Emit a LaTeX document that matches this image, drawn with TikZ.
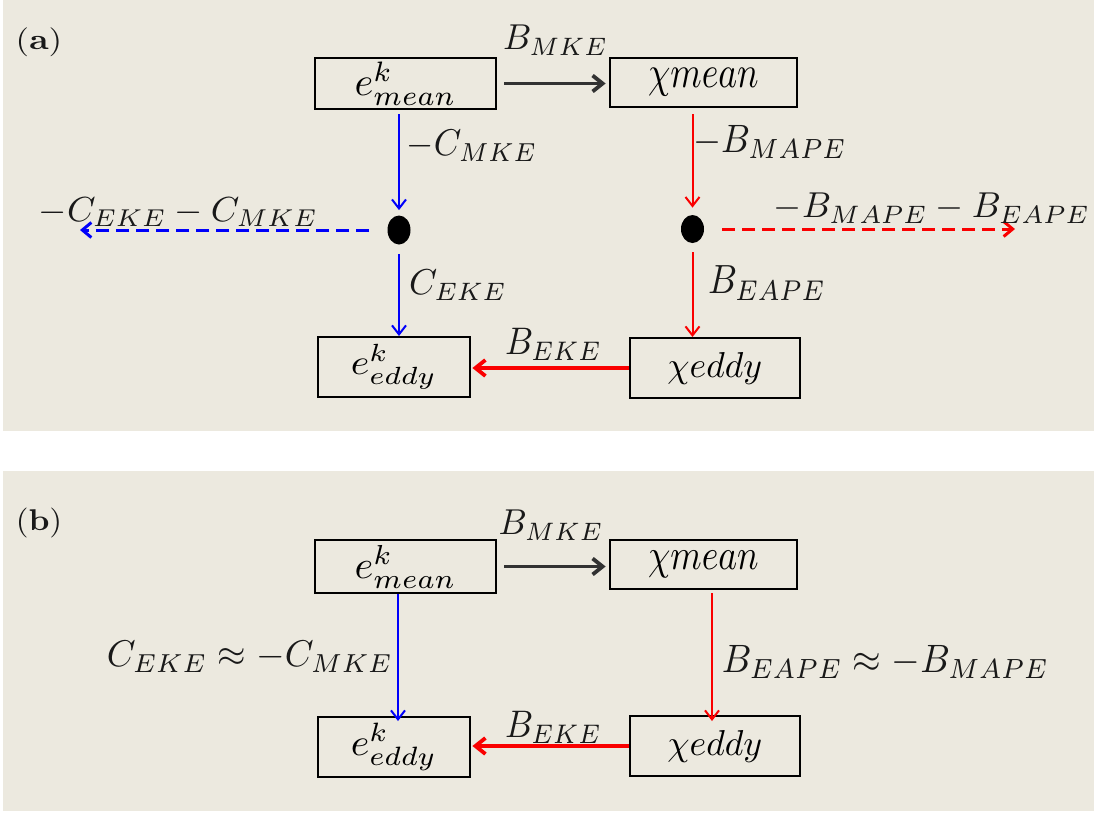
\documentclass[tikz,border=0pt]{standalone}
\usetikzlibrary{arrows.meta,shapes.geometric}
\definecolor{beige}{RGB}{236,233,223}
\definecolor{arrgray}{RGB}{50,50,50}
\definecolor{myred}{RGB}{250,0,0}
\definecolor{myblue}{RGB}{0,0,250}
\newlength\pxu \setlength\pxu{0.5pt}
\newcommand\fitm[3]{\resizebox*{#1\pxu}{#2\pxu}{$#3$}}
\newcommand\fitt[3]{\resizebox*{#1\pxu}{#2\pxu}{#3}}
\begin{document}
\begin{tikzpicture}[x=0.5pt,y=-0.5pt,
  box/.style={draw=black,line width=1pt,rectangle,inner sep=0pt,fill=beige},
  lbl/.style={inner sep=0pt,text=black!90},
  blob/.style={ellipse,fill=black,inner sep=0pt,minimum width=11.5pt,minimum height=14.5pt},
  vflow/.style={line width=1pt,-{Straight Barb[length=4.5pt,width=7pt]}},
  hflow/.style={line width=1.9pt,-{Straight Barb[length=5pt,width=8pt]}},
  dflow/.style={line width=1.5pt,dash pattern=on 6.5pt off 3.5pt,-{Straight Barb[length=4.5pt,width=7.5pt]}}]
\useasboundingbox (0,0) rectangle (1094,816);
\fill[white] (0,0) rectangle (1094,816);
\fill[beige] (3,0) rectangle (1094,431);
\fill[beige] (3,471) rectangle (1094,811);

% ---------- panel (a) ----------
\node[lbl] (tla) at (39,42.5) {\fitt{46.5}{29}{(\textbf{a})}};
\node[box,minimum width=90.5pt,minimum height=25.5pt] (ma) at (405.7,83.5) {\fitm{102}{44}{e^{k}_{mean}}};
\node[box,minimum width=93.75pt,minimum height=24.5pt] (xa) at (703.4,82.5) {\fitm{110.7}{28}{\chi mean}};
\node[box,minimum width=75.8pt,minimum height=30pt] (ea) at (393.8,367) {\fitm{86}{45}{e^{k}_{eddy}}};
\node[box,minimum width=84.8pt,minimum height=30pt] (ya) at (714.8,368) {\fitm{94.6}{32}{\chi eddy}};
\node[blob] (bd) at (399,230) {};
\node[blob,minimum height=14pt] (rd) at (692.5,229) {};
\coordinate (bl) at (80,230);
\coordinate (rr) at (1015,229);

\draw[hflow,arrgray,shorten <=3.5pt,shorten >=1.5pt] (ma.east) -- (ma.east -| xa.west);
\draw[vflow,myblue,shorten <=2pt,shorten >=2.5pt] (ma.south -| bd) -- (bd.north);
\draw[vflow,myblue,shorten <=4.5pt] (bd.south) -- (bd.south |- ea.north);
\draw[dflow,myblue,shorten <=9pt] (bd.west) -- (bl);
\draw[vflow,myred,shorten <=3pt,shorten >=3.5pt] (xa.south -| rd) -- (rd.north);
\draw[vflow,myred,shorten <=4.5pt] (rd.south) -- (rd.south |- ya.north);
\draw[dflow,myred,shorten <=9pt] (rd.east) -- (rr);
\draw[hflow,myred,shorten >=0.9pt] (ya.west) -- (ya.west -| ea.east);

\node[lbl] (la1) at (555.5,40) {\fitm{105}{30}{B_{MKE}}};
\node[lbl] (la2) at (472,146) {\fitm{130.5}{31}{-C_{MKE}}};
\node[lbl] (la3) at (178.5,212) {\fitm{279}{29}{-C_{EKE}-C_{MKE}}};
\node[lbl] (la4) at (458,285) {\fitm{98}{30}{C_{EKE}}};
\node[lbl] (la5) at (770,141.5) {\fitm{153.6}{33}{-B_{MAPE}}};
\node[lbl] (la6) at (932,208) {\fitm{316}{30}{-B_{MAPE}-B_{EAPE}}};
\node[lbl] (la7) at (767,283) {\fitm{118}{34}{B_{EAPE}}};
\node[lbl] (la8) at (553.5,344) {\fitm{97}{32}{B_{EKE}}};

% ---------- panel (b) ----------
\node[lbl] (tlb) at (39,523) {\fitt{46.5}{30}{(\textbf{b})}};
\node[box,minimum width=90.5pt,minimum height=26.5pt] (mb) at (405.7,566.5) {\fitm{102}{43}{e^{k}_{mean}}};
\node[box,minimum width=93.75pt,minimum height=24.5pt] (xb) at (703.4,564.5) {\fitm{110.7}{27}{\chi mean}};
\node[box,minimum width=75.8pt,minimum height=30pt] (eb) at (393.8,747) {\fitm{86}{48}{e^{k}_{eddy}}};
\node[box,minimum width=84.8pt,minimum height=30pt] (yb) at (714.8,746) {\fitm{95}{32}{\chi eddy}};

\draw[hflow,arrgray,shorten <=3.5pt,shorten >=1.5pt] (mb.east) -- (mb.east -| xb.west);
\draw[vflow,myblue,shorten >=-2.5pt] ([xshift=-3.85pt]mb.south) -- ([xshift=-3.85pt]mb.south |- eb.north);
\draw[vflow,myred,shorten <=1.5pt,shorten >=-3pt] ([xshift=4.3pt]xb.south) -- ([xshift=4.3pt]xb.south |- yb.north);
\draw[hflow,myred,shorten >=0.9pt] (yb.west) -- (yb.west -| eb.east);

\node[lbl] (lb1) at (551,525) {\fitm{105}{30}{B_{MKE}}};
\node[lbl] (lb2) at (250,656.5) {\fitm{286}{31}{C_{EKE}\approx -C_{MKE}}};
\node[lbl] (lb3) at (885.5,661.5) {\fitm{327}{33}{B_{EAPE}\approx -B_{MAPE}}};
\node[lbl] (lb4) at (553.5,727) {\fitm{97}{32}{B_{EKE}}};
\end{tikzpicture}
\end{document}
